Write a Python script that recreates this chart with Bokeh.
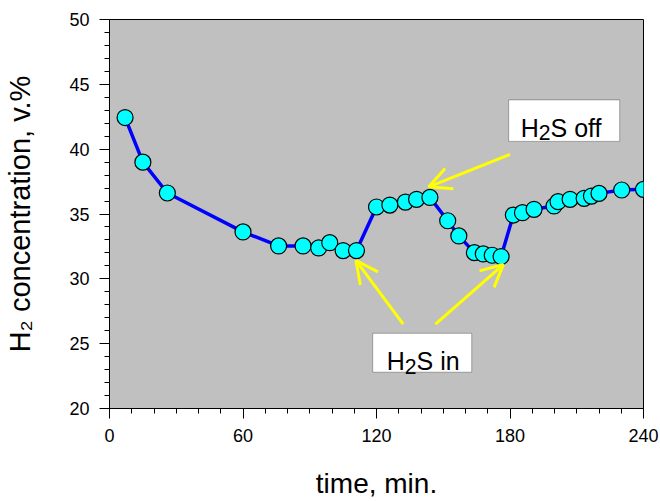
from bokeh.plotting import figure
from bokeh.models import (Range1d, SingleIntervalTicker, Label, Arrow, OpenHead,
                          BoxAnnotation, ColumnDataSource)
from bokeh.embed import file_html
from bokeh.resources import INLINE

# ---- data ----
time_min = [7, 15, 26, 60, 76, 87, 94, 99, 105, 111,
            120, 126, 133, 138, 144, 152, 157, 164, 168, 172, 176,
            181.5, 185.6, 190.8, 199.8, 201.6, 207, 213.3, 216.6, 220, 230.2, 240]
h2_conc = [42.44, 39.0, 36.62, 33.62, 32.54, 32.54, 32.38, 32.79, 32.18, 32.18,
           35.54, 35.69, 35.92, 36.13, 36.28, 34.48, 33.31, 32.02, 31.92, 31.82, 31.72,
           34.92, 35.10, 35.36, 35.62, 35.95, 36.13, 36.21, 36.38, 36.59, 36.85, 36.90]
x_ticks_interval = 60
y_ticks_interval = 5
x_title = "time, min."
y_title = "H\u2082 concentration, v.%"

FONT = "Liberation Sans"

p = figure(width=660, height=501, x_range=Range1d(0, 240), y_range=Range1d(20, 50),
           output_backend="svg", toolbar_location=None,
           min_border_left=109, min_border_right=17, min_border_top=19, min_border_bottom=92)
p.background_fill_color = "#C0C0C0"
p.border_fill_color = "white"
p.outline_line_color = "black"
p.outline_line_width = 1
p.grid.visible = False

p.xaxis.ticker = SingleIntervalTicker(interval=x_ticks_interval, num_minor_ticks=6)
p.yaxis.ticker = SingleIntervalTicker(interval=y_ticks_interval, num_minor_ticks=5)
for ax in (p.xaxis[0], p.yaxis[0]):
    ax.axis_line_color = "black"
    ax.major_tick_line_color = "black"
    ax.minor_tick_line_color = "black"
    ax.major_tick_in = 0
    ax.major_tick_out = 10
    ax.minor_tick_in = 0
    ax.minor_tick_out = 5
    ax.major_label_text_font = FONT
    ax.major_label_text_font_size = "18px"
    ax.major_label_text_color = "black"
    ax.major_label_standoff = 10
    ax.axis_label_text_font = FONT
    ax.axis_label_text_font_style = "normal"
    ax.axis_label_text_color = "black"

p.xaxis.axis_label = x_title
p.xaxis.axis_label_text_font_size = "28px"
p.xaxis.axis_label_standoff = 23
p.yaxis.axis_label = y_title
p.yaxis.axis_label_text_font_size = "29px"
p.yaxis.axis_label_standoff = 30

src = ColumnDataSource(dict(t=time_min, c=h2_conc))
p.line("t", "c", source=src, line_color="#0000FF", line_width=3.5)
p.scatter("t", "c", source=src, size=16, fill_color="#00FFFF", line_color="black", line_width=1.2)

# ---- arrows ----
def arrow(x0, y0, x1, y1):
    p.add_layout(Arrow(end=OpenHead(size=22, line_color="#FFFF00", line_width=3),
                       x_start=x0, y_start=y0, x_end=x1, y_end=y1,
                       line_color="#FFFF00", line_width=3))

arrow(180, 39.6, 143.5, 37.1)
arrow(132, 26.5, 110.8, 31.4)
arrow(146.5, 26.5, 177, 31.1)

# ---- boxes ----
p.add_layout(BoxAnnotation(left=179.4, right=229.3, bottom=40.6, top=43.8,
                           fill_color="white", fill_alpha=1, line_color="black", line_width=1))
p.add_layout(BoxAnnotation(left=118.3, right=162.8, bottom=22.8, top=25.8,
                           fill_color="white", fill_alpha=1, line_color="black", line_width=1))

def sub_text(x, y, parts, size):
    """parts: list of (text, is_sub). Lays out text with subscripts using Arial metrics."""
    widths = {"H": 0.722, "2": 0.556, "S": 0.667, " ": 0.278, "o": 0.556, "f": 0.278,
              "i": 0.222, "n": 0.556}
    adv = 0.0
    for txt, is_sub in parts:
        fs = size * 0.85 if is_sub else size
        drop = size * 0.2 if is_sub else 0.0
        p.add_layout(Label(x=x, y=y, text=txt, x_offset=adv, y_offset=-drop,
                           text_font=FONT, text_font_size=f"{fs:.1f}px", text_color="black",
                           text_align="left", text_baseline="alphabetic"))
        adv += sum(widths.get(ch, 0.556) for ch in txt) * fs

sub_text(184.8, 41.67, [("H", False), ("2", True), ("S off", False)], 25)
sub_text(124.6, 23.64, [("H", False), ("2", True), ("S in", False)], 25)

open("out.html", "w").write(file_html(p, INLINE))
